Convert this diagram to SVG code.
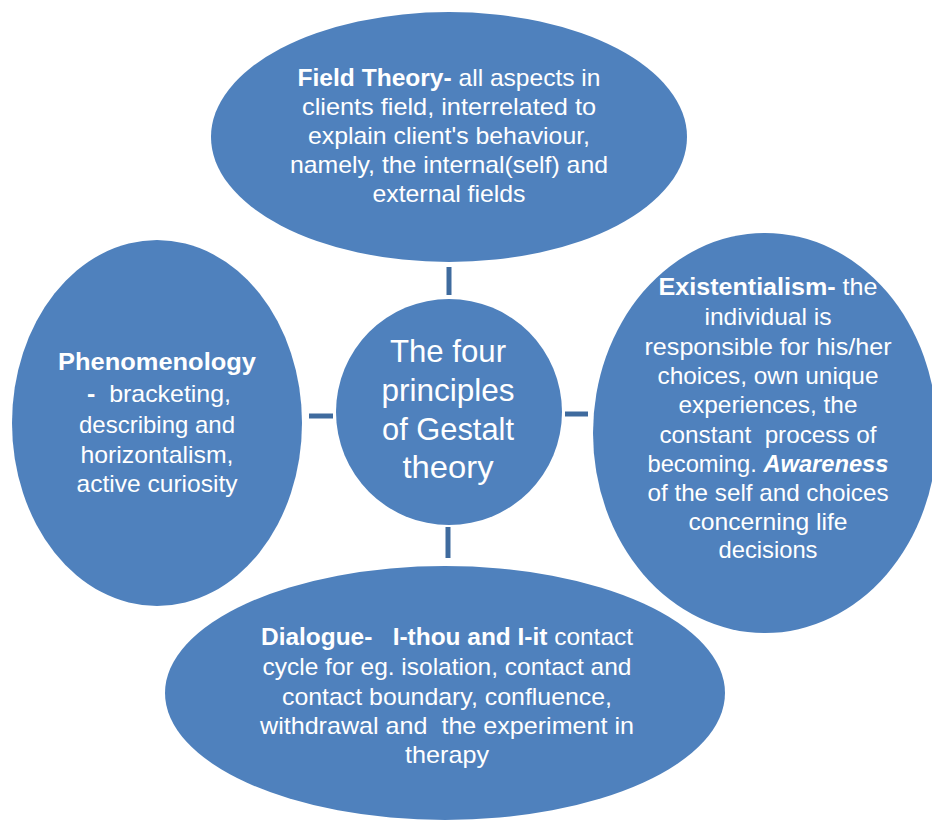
<svg xmlns="http://www.w3.org/2000/svg" width="932" height="822" viewBox="0 0 932 822">
<style>
.node{fill:#4F81BD;}
.conn{stroke:#3F6B9E;stroke-width:5;fill:none;}
text{font-family:"Liberation Sans",Arial,sans-serif;fill:#FFFFFF;font-size:24px;text-anchor:middle;white-space:pre;}
.b{font-weight:bold;}
.bi{font-weight:bold;font-style:italic;}
.ctr{font-size:32px;}
</style>
<rect width="932" height="822" fill="#FFFFFF"/>
<g id="connectors">
<line class="conn" x1="449" y1="267" x2="449" y2="295"/>
<line class="conn" x1="448" y1="527" x2="448" y2="558"/>
<line class="conn" x1="309" y1="416" x2="333" y2="416"/>
<line class="conn" x1="565" y1="414" x2="588" y2="414"/>
</g>
<g id="field-theory">
<ellipse class="node" cx="449" cy="137" rx="238" ry="125"/>
<text x="449" y="86" textLength="303" lengthAdjust="spacingAndGlyphs"><tspan class="b">Field Theory-</tspan> all aspects in</text>
<text x="449" y="115" textLength="294" lengthAdjust="spacingAndGlyphs">clients field, interrelated to</text>
<text x="449" y="144" textLength="282" lengthAdjust="spacingAndGlyphs">explain client's behaviour,</text>
<text x="449" y="173" textLength="318" lengthAdjust="spacingAndGlyphs">namely, the internal(self) and</text>
<text x="449" y="202" textLength="153" lengthAdjust="spacingAndGlyphs">external fields</text>
</g>
<g id="phenomenology">
<ellipse class="node" cx="157" cy="423" rx="145" ry="183"/>
<text x="157" y="370" textLength="198" lengthAdjust="spacingAndGlyphs" class="b">Phenomenology</text>
<text x="159" y="402" textLength="144" lengthAdjust="spacingAndGlyphs"><tspan class="b">-</tspan>  bracketing,</text>
<text x="157" y="433" textLength="156" lengthAdjust="spacingAndGlyphs">describing and</text>
<text x="157" y="463" textLength="153" lengthAdjust="spacingAndGlyphs">horizontalism,</text>
<text x="157" y="492" textLength="161" lengthAdjust="spacingAndGlyphs">active curiosity</text>
</g>
<g id="center">
<circle class="node" cx="449" cy="412" r="113"/>
<text class="ctr" x="448" y="362" textLength="116" lengthAdjust="spacingAndGlyphs">The four</text>
<text class="ctr" x="448" y="401" textLength="133" lengthAdjust="spacingAndGlyphs">principles</text>
<text class="ctr" x="448" y="440" textLength="132" lengthAdjust="spacingAndGlyphs">of Gestalt</text>
<text class="ctr" x="448" y="478" textLength="91" lengthAdjust="spacingAndGlyphs">theory</text>
</g>
<g id="existentialism">
<ellipse class="node" cx="765" cy="433" rx="172" ry="200"/>
<text x="768" y="295" textLength="219" lengthAdjust="spacingAndGlyphs"><tspan class="b">Existentialism-</tspan> the</text>
<text x="768" y="325" textLength="127" lengthAdjust="spacingAndGlyphs">individual is</text>
<text x="768" y="355" textLength="247" lengthAdjust="spacingAndGlyphs">responsible for his/her</text>
<text x="768" y="384" textLength="221" lengthAdjust="spacingAndGlyphs">choices, own unique</text>
<text x="768" y="413" textLength="179" lengthAdjust="spacingAndGlyphs">experiences, the</text>
<text x="768" y="443" textLength="217" lengthAdjust="spacingAndGlyphs">constant  process of</text>
<text x="768" y="472" textLength="241" lengthAdjust="spacingAndGlyphs">becoming. <tspan class="bi">Awareness</tspan></text>
<text x="768" y="501" textLength="241" lengthAdjust="spacingAndGlyphs">of the self and choices</text>
<text x="768" y="530" textLength="159" lengthAdjust="spacingAndGlyphs">concerning life</text>
<text x="768" y="558" textLength="99" lengthAdjust="spacingAndGlyphs">decisions</text>
</g>
<g id="dialogue">
<ellipse class="node" cx="445" cy="693" rx="280" ry="127"/>
<text x="447" y="645" textLength="372" lengthAdjust="spacingAndGlyphs"><tspan class="b">Dialogue-   I-thou and I-it</tspan> contact</text>
<text x="447" y="675" textLength="369" lengthAdjust="spacingAndGlyphs">cycle for eg. isolation, contact and</text>
<text x="447" y="705" textLength="330" lengthAdjust="spacingAndGlyphs">contact boundary, confluence,</text>
<text x="447" y="734" textLength="374" lengthAdjust="spacingAndGlyphs">withdrawal and  the experiment in</text>
<text x="447" y="763" textLength="84" lengthAdjust="spacingAndGlyphs">therapy</text>
</g>
</svg>
